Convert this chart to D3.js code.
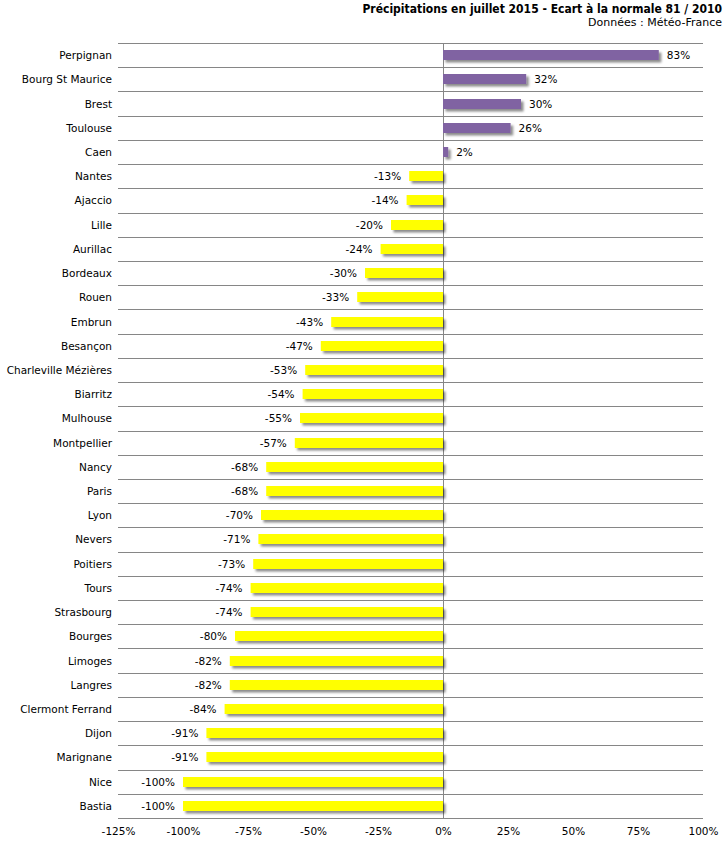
<!DOCTYPE html>
<html><head><meta charset="utf-8">
<script src="https://cdn.jsdelivr.net/npm/d3@7"></script>
<style>
html,body{margin:0;padding:0;background:#fff;}
svg text{font-family:"DejaVu Sans",sans-serif;fill:#000;}
svg text.title{font-family:"DejaVu Sans Condensed","DejaVu Sans",sans-serif;}
</style></head>
<body>
<svg id="chart" width="727" height="841"></svg>
<script>
const cities = ["Perpignan","Bourg St Maurice","Brest","Toulouse","Caen","Nantes","Ajaccio","Lille","Aurillac","Bordeaux","Rouen","Embrun","Besançon","Charleville Mézières","Biarritz","Mulhouse","Montpellier","Nancy","Paris","Lyon","Nevers","Poitiers","Tours","Strasbourg","Bourges","Limoges","Langres","Clermont Ferrand","Dijon","Marignane","Nice","Bastia"];
const values = [83,32,30,26,2,-13,-14,-20,-24,-30,-33,-43,-47,-53,-54,-55,-57,-68,-68,-70,-71,-73,-74,-74,-80,-82,-82,-84,-91,-91,-100,-100];
const tickValues = [-125,-100,-75,-50,-25,0,25,50,75,100];
const title = "Précipitations en juillet 2015 - Ecart à la normale 81 / 2010";
const subtitle = "Données : Météo-France";

(function(){
const svg = d3.select("#chart");
const pL = 118, pR = 703, pT = 43, pB = 818;
const fs = 10.5;

const x = d3.scaleLinear().domain([-125,100]).range([pL,pR]);
const y = d3.scaleBand().domain(cities).range([pT,pB]);
const barH = 10;

const defs = svg.append("defs");
const f = defs.append("filter").attr("id","shadow").attr("x","-10%").attr("y","-50%").attr("width","130%").attr("height","250%");
f.append("feDropShadow").attr("dx",2.5).attr("dy",2.5).attr("stdDeviation",1.3).attr("flood-color","#000").attr("flood-opacity",0.45);

const bounds = cities.map(c => y(c)).concat([pB]);
svg.append("g").selectAll("line").data(bounds).join("line")
  .attr("x1",pL).attr("x2",pR)
  .attr("y1",d=>Math.round(d)+0.5).attr("y2",d=>Math.round(d)+0.5)
  .attr("stroke","#868686").attr("stroke-width",1);

svg.append("line").attr("x1",Math.round(x(0))+0.5).attr("x2",Math.round(x(0))+0.5)
  .attr("y1",pT).attr("y2",pB+0.5).attr("stroke","#868686");

const data = cities.map((c,i)=>({c, v:values[i]}));

svg.append("g").attr("filter","url(#shadow)").selectAll("rect").data(data).join("rect")
  .attr("x",d=>x(Math.min(0,d.v)))
  .attr("width",d=>Math.abs(x(d.v)-x(0)))
  .attr("y",d=>Math.round(y(d.c)+y.bandwidth()/2-barH/2))
  .attr("height",barH)
  .attr("fill",d=>d.v>=0?"#8064a2":"#ffff00");

svg.append("g").selectAll("text").data(data).join("text")
  .attr("x",d=>d.v>=0? x(d.v)+8 : x(d.v)-8)
  .attr("y",d=>y(d.c)+y.bandwidth()/2+4)
  .attr("text-anchor",d=>d.v>=0?"start":"end")
  .attr("font-size",fs)
  .text(d=>d.v+"%");

svg.append("g").selectAll("text").data(cities).join("text")
  .attr("x",112)
  .attr("y",d=>y(d)+y.bandwidth()/2+4)
  .attr("text-anchor","end")
  .attr("font-size",fs)
  .text(d=>d);

const ax = svg.append("g").attr("transform",`translate(0,${pB})`)
  .call(d3.axisBottom(x).tickValues(tickValues).tickFormat(d=>d+"%").tickSize(0).tickPadding(10));
ax.select(".domain").remove();
ax.selectAll("text").attr("font-size",fs).attr("font-family",null).attr("fill","#000");

svg.append("text").attr("class","title").attr("x",722).attr("y",13).attr("text-anchor","end")
  .attr("font-size",12).attr("font-weight","bold").text(title);
svg.append("text").attr("x",722).attr("y",26).attr("text-anchor","end")
  .attr("font-size",11).text(subtitle);
})();
</script>
</body></html>
